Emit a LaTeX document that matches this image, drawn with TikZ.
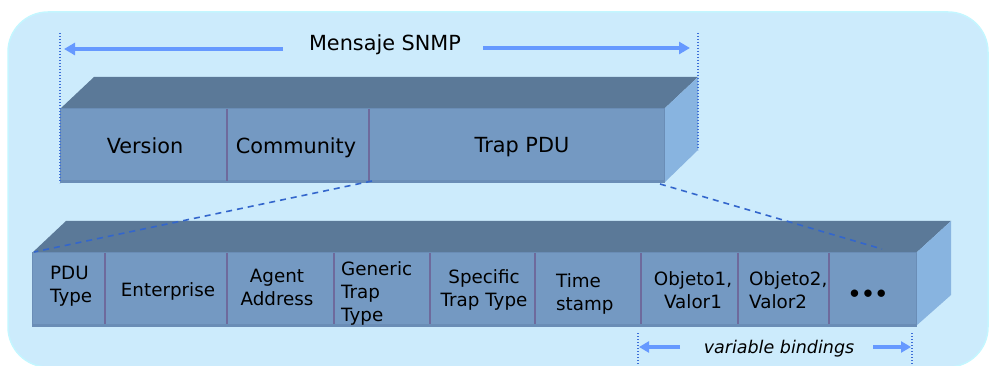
\documentclass[tikz,border=0pt]{standalone}
\usepackage{fontspec}
\setmainfont{DejaVu Sans}
\usetikzlibrary{arrows.meta}
\definecolor{bgfill}{HTML}{CCEBFC}
\definecolor{bgline}{HTML}{C4F6FF}
\definecolor{frontc}{HTML}{7499C2}
\definecolor{frontline}{HTML}{6A8DB6}
\definecolor{topc}{HTML}{5B7998}
\definecolor{sidec}{HTML}{88B4E0}
\definecolor{divc}{HTML}{6E6A9C}
\definecolor{arrc}{HTML}{6699FF}
\definecolor{dotc}{HTML}{3D6FD8}
\definecolor{dashc}{HTML}{3366CC}
\begin{document}
\begin{tikzpicture}[x=1pt,y=-1pt,
  front/.style={fill=frontc,draw=frontline,line width=1pt},
  topface/.style={fill=topc},
  sideface/.style={fill=sidec},
  divider/.style={draw=divc,line width=1.6pt},
  bigtxt/.style={font=\fontsize{20.8}{25}\selectfont,inner sep=0pt,anchor=base},
  smalltxt/.style={font=\fontsize{18.3}{23}\selectfont,inner sep=0pt},
  vdots/.style={draw=dotc,line width=1.2pt,dash pattern=on 1.2pt off 1.8pt},
  dashln/.style={draw=dashc,line width=1.6pt,dash pattern=on 6pt off 5pt},
  bigarr/.style={draw=arrc,line width=4pt,-{Triangle[length=11pt,width=12pt]}},
  smallarr/.style={draw=arrc,line width=3.2pt,-{Triangle[length=10pt,width=11pt]}}]
\useasboundingbox (0,0) rectangle (991,366);
% background
\path[fill=bgfill,draw=bgline,line width=1.5pt,rounded corners=40pt] (8,12) rectangle (988,367);

% ---- top box ----
\path[topface] (60,109) -- (94,77) -- (698,77) -- (664,109) -- cycle;
\path[sideface] (664,109) -- (698,77) -- (698,150) -- (664,183) -- cycle;
\path[front] (60,109) rectangle (664,183);
\path[fill=frontline] (60,180.5) rectangle (664,183.5);
\path[divider] (227,109) -- (227,181);
\path[divider] (369,109) -- (369,181);
\node[bigtxt] (version) at (145,154) {Version};
\node[bigtxt] (community) at (296,154) {Community};
\node[bigtxt] (trappdu) at (522,153) {Trap PDU};

% dimension of SNMP message
\coordinate (mtl) at (60,33);
\coordinate (mbl) at (60,183);
\coordinate (mtr) at (698,33);
\coordinate (mbr) at (698,150);
\draw[vdots] (mtl) -- (mbl);
\draw[vdots] (mtr) -- (mbr);
\node[bigtxt] (mensaje) at (385,51) {Mensaje SNMP};
\coordinate (ma1) at (283,49);
\coordinate (ma2) at (64,49);
\coordinate (mb1) at (483,48);
\coordinate (mb2) at (690,48);
\draw[bigarr] (ma1) -- (ma2);
\draw[bigarr] (mb1) -- (mb2);

% ---- bottom box ----
\path[topface] (32,253) -- (66,221) -- (951,221) -- (916,253) -- cycle;
\path[sideface] (916,253) -- (951,221) -- (951,295) -- (916,326) -- cycle;
\path[front] (32,253) rectangle (916,326);
\path[fill=frontline] (32,323.5) rectangle (916,326.5);
\foreach \xx in {105,227,334,430,535,641,738,829}{
  \path[divider] (\xx,253) -- (\xx,324);
}
\node[smalltxt,anchor=west,align=left] (pdutype) at (50,286) {PDU\\Type};
\node[smalltxt,anchor=base] (enterprise) at (168,296.5) {Enterprise};
\node[smalltxt,align=center] (agent) at (277,287) {Agent\\Address};
\node[smalltxt,anchor=west,align=left] (generic) at (341,293.3) {Generic\\Trap\\Type};
\node[smalltxt,align=center] (specific) at (484,289.8) {Specific\\Trap Type};
\node[smalltxt,anchor=west,align=left] (timestamp) at (556,293.8) {Time\\stamp};
\node[smalltxt,align=center] (obj1) at (693,289.7) {Objeto1,\\Valor1};
\node[smalltxt,anchor=west,align=left] (obj2) at (749,289.7) {Objeto2,\\Valor2};
\node[font=\fontsize{21}{25}\selectfont\bfseries,inner sep=0pt,anchor=base] (dots) at (868,301.5) {•••};

% zoom lines
\coordinate (zl1) at (372,181);
\coordinate (zl2) at (34,252);
\coordinate (zr1) at (660,184);
\coordinate (zr2) at (882,249);
\draw[dashln] (zl1) -- (zl2);
\draw[dashln] (zr1) -- (zr2);

% variable bindings
\coordinate (vtl) at (638,333);
\coordinate (vbl) at (638,366);
\coordinate (vtr) at (912,333);
\coordinate (vbr) at (912,366);
\draw[vdots] (vtl) -- (vbl);
\draw[vdots] (vtr) -- (vbr);
\node[font=\fontsize{17.5}{21}\selectfont\itshape,inner sep=0pt,anchor=base] (varb) at (779,353) {variable bindings};
\coordinate (va1) at (680,347);
\coordinate (va2) at (639,347);
\coordinate (vb1) at (873,347);
\coordinate (vb2) at (911,347);
\draw[smallarr] (va1) -- (va2);
\draw[smallarr] (vb1) -- (vb2);
\end{tikzpicture}
\end{document}
